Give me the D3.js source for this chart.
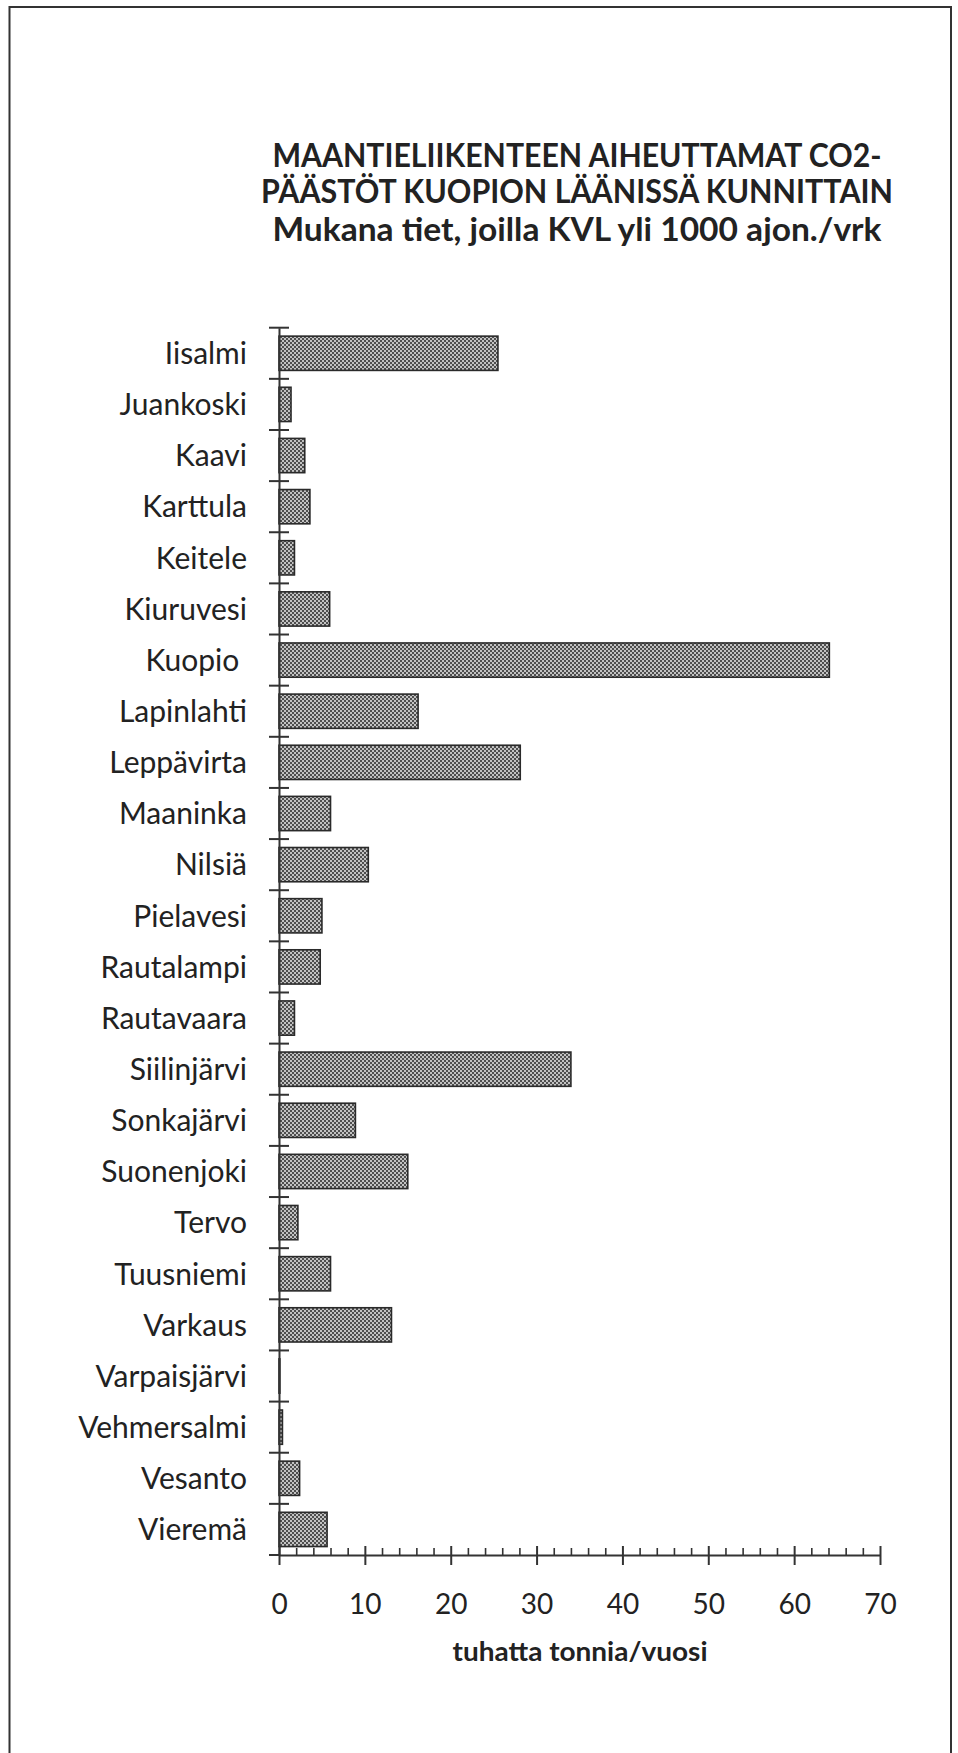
<!DOCTYPE html>
<html>
<head>
<meta charset="utf-8">
<script src="https://cdn.jsdelivr.net/npm/d3@7"></script>
<style>
  body { margin: 0; background: #fff; }
  svg { display: block; }
  text { font-family: Lato, "DejaVu Sans", sans-serif; fill: #222; }
</style>
</head>
<body>
<div id="chart"></div>
<script>
// kunnat (Kuopion lääni)
const municipalities = [
    "Iisalmi", "Juankoski", "Kaavi", "Karttula", "Keitele", "Kiuruvesi",
    "Kuopio ", "Lapinlahti", "Leppävirta", "Maaninka", "Nilsiä", "Pielavesi",
    "Rautalampi", "Rautavaara", "Siilinjärvi", "Sonkajärvi", "Suonenjoki", "Tervo",
    "Tuusniemi", "Varkaus", "Varpaisjärvi", "Vehmersalmi", "Vesanto", "Vieremä"
];

// CO2-päästöt, tuhatta tonnia/vuosi
const emissions = [
    25.5, 1.4, 3.0, 3.6, 1.8, 5.9,
    64.1, 16.2, 28.1, 6.0, 10.4, 5.0,
    4.8, 1.8, 34.0, 8.9, 15.0, 2.2,
    6.0, 13.1, 0.1, 0.4, 2.4, 5.6
];

const titleLines = [
    "MAANTIELIIKENTEEN AIHEUTTAMAT CO2-",
    "PÄÄSTÖT KUOPION LÄÄNISSÄ KUNNITTAIN",
    "Mukana tiet, joilla KVL yli 1000 ajon./vrk"
];
const xTicks = d3.range(0, 71, 2);
const xLabel = "tuhatta tonnia/vuosi";

const width = 958, height = 1753;
const data = municipalities.map((name, i) => ({ name, value: emissions[i] }));

const svg = d3.select("#chart").append("svg")
    .attr("width", width)
    .attr("height", height);

// stippled bar fill
const pattern = svg.append("defs").append("pattern")
    .attr("id", "dots")
    .attr("patternUnits", "userSpaceOnUse")
    .attr("width", 4)
    .attr("height", 4);
pattern.append("rect").attr("width", 4).attr("height", 4).attr("fill", "#c2c2c2");
pattern.append("rect").attr("width", 2).attr("height", 2).attr("fill", "#4e4e4e");
pattern.append("rect").attr("x", 2).attr("y", 2).attr("width", 2).attr("height", 2).attr("fill", "#4e4e4e");

// frame
svg.append("rect")
    .attr("x", 9.5).attr("y", 7)
    .attr("width", 941.5).attr("height", 1760)
    .attr("fill", "none")
    .attr("stroke", "#333")
    .attr("stroke-width", 2);

// title
svg.append("g").selectAll("text")
    .data(titleLines)
    .join("text")
    .attr("x", 577)
    .attr("y", (d, i) => [167, 203, 241][i])
    .attr("text-anchor", "middle")
    .attr("font-size", 32)
    .attr("font-weight", "bold")
    .attr("textLength", (d, i) => [609, 632, 609][i])
    .attr("lengthAdjust", "spacingAndGlyphs")
    .text(d => d);

const x = d3.scaleLinear().domain([0, 70]).range([279, 880]);
const y = d3.scaleBand()
    .domain(municipalities)
    .range([327.7, 1555])
    .paddingInner(0.33)
    .paddingOuter(0.165);

const axisColor = "#333";

// bars
svg.append("g").selectAll("rect")
    .data(data)
    .join("rect")
    .attr("x", x(0))
    .attr("y", d => y(d.name))
    .attr("width", d => x(d.value) - x(0))
    .attr("height", y.bandwidth())
    .attr("fill", "url(#dots)")
    .attr("stroke", "#2a2a2a")
    .attr("stroke-width", 1.6);

// y axis with labels
const yAxis = svg.append("g")
    .attr("transform", `translate(${x(0)},0)`)
    .call(d3.axisLeft(y).tickSize(0).tickSizeOuter(0).tickPadding(32));
yAxis.select(".domain").attr("stroke", axisColor).attr("stroke-width", 2);
yAxis.selectAll(".tick text")
    .attr("font-size", 30)
    .attr("fill", "#222")
    .attr("font-family", "Lato, 'DejaVu Sans', sans-serif")
    .style("white-space", "pre")
    .attr("dy", "0.36em");

// band boundary ticks
const y0 = y.range()[0];
yAxis.append("g").selectAll("line")
    .data(d3.range(municipalities.length + 1))
    .join("line")
    .attr("x1", -10)
    .attr("x2", d => d === municipalities.length ? 0 : 10)
    .attr("y1", d => y0 + d * y.step())
    .attr("y2", d => y0 + d * y.step())
    .attr("stroke", axisColor)
    .attr("stroke-width", 2);

// x axis
const xAxis = svg.append("g")
    .attr("transform", `translate(0,${y.range()[1]})`)
    .call(d3.axisBottom(x).tickValues(xTicks).tickSizeOuter(0)
        .tickFormat(d => d % 10 === 0 ? d : ""));
xAxis.select(".domain").attr("stroke", axisColor).attr("stroke-width", 2);
xAxis.selectAll(".tick line")
    .attr("stroke", axisColor)
    .attr("stroke-width", d => d % 10 === 0 ? 2 : 1.6)
    .attr("y1", d => d % 10 === 0 ? -9 : -7)
    .attr("y2", d => d % 10 === 0 ? 10 : 0);
xAxis.selectAll(".tick text")
    .attr("font-size", 28)
    .attr("fill", "#222")
    .attr("font-family", "Lato, 'DejaVu Sans', sans-serif")
    .attr("y", 59)
    .attr("dy", 0);

// x axis title
svg.append("text")
    .attr("x", 580)
    .attr("y", 1661)
    .attr("text-anchor", "middle")
    .attr("font-size", 27)
    .attr("font-weight", "bold")
    .attr("textLength", 255)
    .attr("lengthAdjust", "spacingAndGlyphs")
    .text(xLabel);
</script>
</body>
</html>
